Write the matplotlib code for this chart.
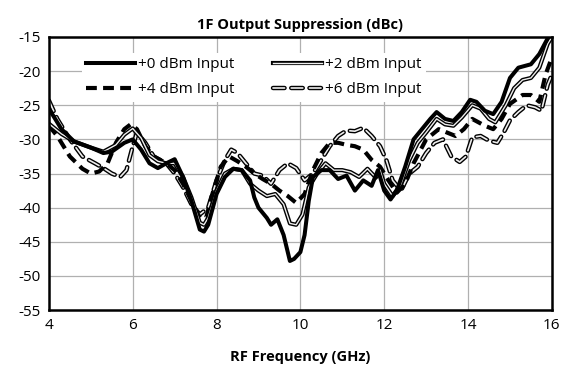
import matplotlib
matplotlib.use("Agg")
import matplotlib.pyplot as plt
from matplotlib.legend_handler import HandlerTuple

plt.rcParams['font.family'] = ['Open Sans', 'DejaVu Sans']
plt.rcParams['axes.unicode_minus'] = False

# +0 dBm
f0 = [4.0, 4.3, 4.6, 5.0, 5.3, 5.5, 5.8, 6.0, 6.2, 6.4, 6.6, 6.8, 7.0, 7.2, 7.4, 7.6, 7.7, 7.8, 8.0, 8.2, 8.4,
      8.6, 8.8, 8.9, 9.0, 9.2, 9.3, 9.45, 9.6, 9.75, 9.85, 10.0, 10.1, 10.2, 10.3, 10.5, 10.7, 10.9, 11.1, 11.3,
      11.5, 11.7, 11.85, 12.0, 12.15, 12.3, 12.5, 12.7, 12.9, 13.1, 13.25, 13.45, 13.65, 13.85, 14.05, 14.2,
      14.4, 14.6, 14.8, 15.0, 15.2, 15.5, 15.7, 15.9, 16.0]
p0 = [-25.5, -28.5, -30.3, -31.2, -32.0, -31.8, -30.5, -30.0, -31.5, -33.5, -34.2, -33.5, -32.9, -35.5, -39.0,
      -43.2, -43.5, -42.5, -38.0, -35.5, -34.3, -34.5, -36.0, -38.5, -40.0, -41.5, -42.5, -41.7, -44.0, -47.8,
      -47.5, -46.5, -44.0, -39.0, -35.5, -34.5, -34.5, -35.8, -35.3, -37.5, -36.0, -36.8, -34.5, -37.5, -38.8,
      -37.5, -34.0, -30.0, -28.5, -27.0, -26.0, -27.0, -27.3, -26.0, -24.2, -24.5, -25.8, -26.3, -24.5, -21.0,
      -19.5, -19.0, -17.5, -15.2, -14.0]

# +2 dBm
f2 = [4.0, 4.3, 4.6, 5.0, 5.3, 5.6, 5.8, 6.0, 6.2, 6.4, 6.6, 6.8, 7.0, 7.2, 7.4, 7.6, 7.7, 7.8, 8.0, 8.2, 8.4,
      8.6, 8.8, 9.0, 9.2, 9.4, 9.6, 9.75, 9.9, 10.05, 10.2, 10.4, 10.6, 10.8, 11.0, 11.2, 11.4, 11.6, 11.8,
      11.9, 12.0, 12.2, 12.4, 12.6, 12.8, 13.0, 13.25, 13.45, 13.65, 13.85, 14.1, 14.3, 14.5, 14.65, 14.9,
      15.1, 15.3, 15.5, 15.7, 15.9, 16.0]
p2 = [-27.7, -29.2, -30.3, -31.2, -31.8, -30.8, -29.3, -28.4, -29.8, -32.3, -33.2, -33.5, -33.5, -35.5, -38.5,
      -42.2, -42.5, -41.5, -37.5, -35.0, -34.3, -34.5, -36.5, -37.5, -38.3, -38.0, -39.5, -42.3, -42.5, -41.0,
      -37.0, -35.0, -33.5, -34.5, -34.5, -34.8, -35.5, -34.3, -35.6, -34.5, -36.5, -38.3, -36.5, -33.0, -30.5,
      -29.0, -27.0, -27.8, -28.0, -26.8, -25.0, -25.5, -27.0, -27.5, -25.0, -22.5, -21.3, -21.0, -19.5, -16.0,
      -15.0]

# +4 dBm
f4 = [4.0, 4.2, 4.5, 4.8, 5.0, 5.2, 5.4, 5.6, 5.8, 5.95, 6.1, 6.3, 6.5, 6.8, 7.0, 7.2, 7.4, 7.6, 7.75, 7.9,
      8.1, 8.3, 8.5, 8.7, 8.9, 9.1, 9.3, 9.5, 9.7, 9.9, 10.1, 10.3, 10.5, 10.7, 10.9, 11.1, 11.3, 11.5, 11.7,
      11.9, 12.1, 12.3, 12.5, 12.7, 13.0, 13.3, 13.5, 13.7, 13.9, 14.1, 14.4, 14.6, 14.8, 15.0, 15.3, 15.5,
      15.7, 15.85, 16.0]
p4 = [-28.0, -29.5, -32.5, -34.3, -35.0, -34.7, -33.5, -30.5, -28.5, -27.8, -28.5, -31.0, -32.5, -33.5, -34.5,
      -36.5, -39.0, -41.5, -41.5, -38.0, -34.0, -32.5, -33.2, -34.0, -35.0, -35.8, -36.5, -37.5, -38.3, -39.3,
      -38.0, -34.5, -32.0, -30.5, -30.5, -30.8, -31.0, -31.5, -33.0, -34.0, -36.0, -37.8, -36.5, -33.5, -30.0,
      -28.5, -29.0, -29.5, -28.5, -27.0, -28.0, -28.5, -27.0, -24.8, -23.5, -23.5, -24.5, -20.5, -18.0]

# +6 dBm
f6 = [4.0, 4.2, 4.5, 4.8, 5.1, 5.3, 5.5, 5.7, 5.85, 6.0, 6.1, 6.3, 6.5, 6.8, 7.0, 7.2, 7.4, 7.6, 7.8, 8.0, 8.2,
      8.35, 8.5, 8.7, 8.9, 9.1, 9.3, 9.5, 9.7, 9.9, 10.1, 10.3, 10.5, 10.7, 10.9, 11.1, 11.3, 11.5, 11.7, 11.9,
      12.05, 12.2, 12.4, 12.6, 12.8, 13.0, 13.2, 13.4, 13.6, 13.8, 13.95, 14.1, 14.3, 14.5, 14.7, 14.85, 15.0,
      15.2, 15.4, 15.6, 15.75, 15.9, 16.0]
p6 = [-24.3, -27.0, -30.0, -32.5, -33.5, -34.2, -35.0, -35.5, -34.5, -31.0, -29.0, -30.5, -32.5, -33.5, -35.0,
      -37.0, -39.5, -41.0, -40.0, -36.0, -33.0, -31.5, -32.0, -33.5, -35.0, -35.3, -36.5, -34.5, -33.5, -34.2,
      -36.0, -35.0, -33.0, -31.0, -29.5, -28.7, -28.8, -28.3, -29.5, -31.0, -33.0, -36.0, -37.5, -35.0, -34.0,
      -32.0, -30.5, -30.0, -32.5, -33.3, -32.5, -29.7, -29.5, -30.2, -30.5, -29.0, -27.2, -26.0, -25.0, -25.3,
      -25.8, -22.0, -20.5]

labels = ['+0 dBm Input', '+2 dBm Input', '+4 dBm Input', '+6 dBm Input']
xticks = [4, 6, 8, 10, 12, 14, 16]
yticks = [-55, -50, -45, -40, -35, -30, -25, -20, -15]

fig = plt.figure(figsize=(5.62, 3.81), dpi=100)
ax = fig.add_axes([0.087, 0.186, 0.895, 0.717])

core = '#eeeeee'
dash = (2.6, 1.5)

h6a = ax.plot(f6, p6, color='black', lw=3.2, dashes=dash, dash_capstyle='round')[0]
h6b = ax.plot(f6, p6, color=core, lw=1.2, dashes=(2.6 * 3.2 / 1.2, 1.5 * 3.2 / 1.2), dash_capstyle='round')[0]
h4 = ax.plot(f4, p4, color='black', lw=3.0, dashes=dash)[0]
h2a = ax.plot(f2, p2, color='black', lw=3.0)[0]
h2b = ax.plot(f2, p2, color=core, lw=1.0)[0]
h0 = ax.plot(f0, p0, color='black', lw=2.9, solid_joinstyle='round')[0]

ax.set_xlim(4, 16)
ax.set_ylim(-55, -15)
ax.set_xticks(xticks)
ax.set_yticks(yticks)
ax.grid(True, color='#b0b0b0', lw=0.9)
ax.set_axisbelow(True)
ax.tick_params(length=0, labelsize=11, pad=6)
for s in ax.spines.values():
    s.set_linewidth(1.8)
ax.set_title('1F Output Suppression (dBc)', fontsize=10.5, fontweight='bold', pad=6)
ax.set_xlabel('RF Frequency (GHz)', fontsize=10.5, fontweight='bold', labelpad=12)

# ncol=2 fills columns first: order handles so rows read +0,+2 / +4,+6
leg = ax.legend([h0, h4, (h2a, h2b), (h6a, h6b)],
                [labels[0], labels[2], labels[1], labels[3]], ncol=2,
                handler_map={tuple: HandlerTuple(ndivide=1)},
                loc='upper left', bbox_to_anchor=(0.05, 0.97), frameon=True, fancybox=False,
                edgecolor='none', facecolor='white', framealpha=1, fontsize=11,
                handlelength=3.2, handletextpad=0.2, columnspacing=2.5, labelspacing=0.65,
                borderpad=0.3)

fig.savefig('out.png', dpi=100)
